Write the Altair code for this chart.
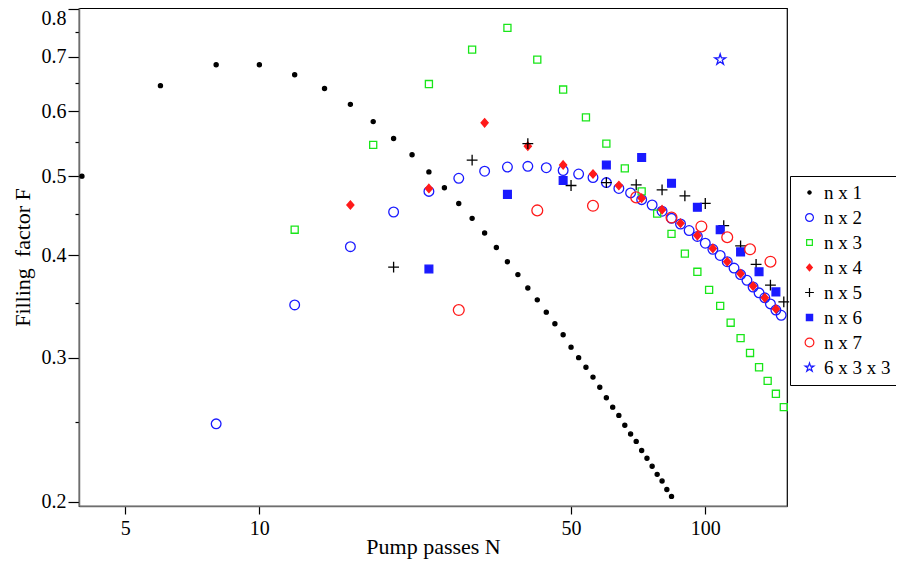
import altair as alt
import pandas as pd

series_names = ["n x 1", "n x 2", "n x 3", "n x 4", "n x 5", "n x 6", "n x 7", "6 x 3 x 3"]

n1_N = [4, 6, 8, 10, 12, 14, 16, 18, 20, 22, 24, 26, 28, 30, 32, 34, 36, 38, 40, 42, 44,
        46, 48, 50, 52, 54, 56, 58, 60, 62, 64, 66, 68, 70, 72, 74, 76, 78, 80, 82, 84]
n1_F = [0.500, 0.645, 0.684, 0.684, 0.665, 0.640, 0.612, 0.583, 0.556, 0.531, 0.506,
        0.484, 0.463, 0.444, 0.426, 0.409, 0.393, 0.379, 0.365, 0.353, 0.341, 0.330,
        0.320, 0.309, 0.300, 0.292, 0.284, 0.276, 0.268, 0.261, 0.255, 0.248, 0.242,
        0.237, 0.231, 0.226, 0.221, 0.216, 0.212, 0.207, 0.203]

n2_N = [8, 12, 16, 20, 24, 28, 32, 36, 40, 44, 48, 52, 56, 60, 64, 68, 72, 76, 80, 84,
        88, 92, 96, 100, 104, 108, 112, 116, 120, 124, 128, 132, 136, 140, 144, 148]
n2_F = [0.249, 0.348, 0.410, 0.452, 0.479, 0.497, 0.507, 0.513, 0.514, 0.512, 0.508,
        0.503, 0.498, 0.491, 0.483, 0.477, 0.468, 0.461, 0.453, 0.444, 0.437, 0.429,
        0.422, 0.414, 0.407, 0.400, 0.393, 0.386, 0.379, 0.373, 0.366, 0.360, 0.355,
        0.349, 0.343, 0.338]

n3_N = [12, 18, 24, 30, 36, 42, 48, 54, 60, 66, 72, 78, 84, 90, 96, 102, 108, 114, 120,
        126, 132, 138, 144, 150]
n3_F = [0.430, 0.546, 0.648, 0.714, 0.759, 0.694, 0.638, 0.590, 0.548, 0.511, 0.479,
        0.450, 0.425, 0.402, 0.382, 0.363, 0.347, 0.331, 0.317, 0.304, 0.292, 0.281,
        0.271, 0.261]

n4_N = [16, 24, 32, 40, 48, 56, 64, 72, 80, 88, 96, 104, 112, 120, 128, 136, 144]
n4_F = [0.461, 0.483, 0.581, 0.544, 0.516, 0.503, 0.487, 0.470, 0.455, 0.438, 0.423,
        0.408, 0.393, 0.380, 0.367, 0.355, 0.344]

n5_N = [20, 30, 40, 50, 60, 70, 80, 90, 100, 110, 120, 130, 140, 150]
n5_F = [0.387, 0.523, 0.548, 0.487, 0.491, 0.488, 0.481, 0.473, 0.463, 0.435, 0.411,
        0.390, 0.368, 0.351]

n6_N = [24, 36, 48, 60, 72, 84, 96, 108, 120, 132, 144]
n6_F = [0.385, 0.475, 0.494, 0.516, 0.527, 0.490, 0.458, 0.430, 0.404, 0.382, 0.361]

n7_N = [28, 42, 56, 70, 84, 98, 112, 126, 140]
n7_F = [0.343, 0.454, 0.460, 0.471, 0.445, 0.434, 0.421, 0.407, 0.393]

s633_N = [108]
s633_F = [0.694]

y_tick_values = [0.2, 0.25, 0.3, 0.35, 0.4, 0.45, 0.5, 0.55, 0.6, 0.65, 0.7, 0.75, 0.8]
x_tick_values = [5, 10, 50, 100]

all_series = [(series_names[0], n1_N, n1_F), (series_names[1], n2_N, n2_F),
              (series_names[2], n3_N, n3_F), (series_names[3], n4_N, n4_F),
              (series_names[4], n5_N, n5_F), (series_names[5], n6_N, n6_F),
              (series_names[6], n7_N, n7_F), (series_names[7], s633_N, s633_F)]
rows = []
for name, Ns, Fs in all_series:
    for n, f in zip(Ns, Fs):
        rows.append({"series": name, "N": n, "F": f})
df = pd.DataFrame(rows)

BLUE = "#1a1aff"
GREEN = "#19e619"
RED = "#ff1a1a"
stroke_colors = ["#000000", BLUE, GREEN, RED, "#000000", BLUE, RED, BLUE]
fill_colors = ["#000000", "transparent", "transparent", RED, "transparent", BLUE,
               "transparent", "transparent"]
shape_paths = [
    "M0,-0.36A0.36,0.36,0,1,1,0,0.36A0.36,0.36,0,1,1,0,-0.36Z",
    "M0,-0.85A0.85,0.85,0,1,1,0,0.85A0.85,0.85,0,1,1,0,-0.85Z",
    "M-0.62,-0.62H0.62V0.62H-0.62Z",
    "M0,-0.72L0.62,0L0,0.72L-0.62,0Z",
    "M-0.95,0H0.95M0,-0.95V0.95",
    "M-0.68,-0.68H0.68V0.68H-0.68Z",
    "M0,-0.95A0.95,0.95,0,1,1,0,0.95A0.95,0.95,0,1,1,0,-0.95Z",
    "M0,-1L0.223,-0.307L0.951,-0.309L0.361,0.117L0.588,0.809L0,0.38L-0.588,0.809L-0.361,0.117L-0.951,-0.309L-0.223,-0.307Z",
]

FONT = "Liberation Serif"
legend = alt.Legend(
    title=None, orient="none", legendX=711, legendY=168,
    strokeColor="#000000", fillColor="#ffffff", padding=7,
    labelFont=FONT, labelFontSize=19, labelColor="#000000",
    symbolSize=85, symbolStrokeWidth=1.2, rowPadding=5,
    symbolOffset=3, labelOffset=5,
)

major_test = "round(datum.value*100) % 10 == 0"

chart = alt.Chart(df).mark_point(size=130, opacity=1, strokeWidth=1.3).encode(
    x=alt.X("N:Q", scale=alt.Scale(type="log", domain=[3.94, 152.5], nice=False),
            axis=alt.Axis(values=x_tick_values, format="d", title="Pump passes N",
                          grid=False, tickSize=8, labelPadding=4, titlePadding=-2)),
    y=alt.Y("F:Q", scale=alt.Scale(type="log", domain=[0.1976, 0.8026], nice=False),
            axis=alt.Axis(values=y_tick_values, title="Filling\u00a0 factor F", grid=False,
                          labelExpr=major_test + " ? format(datum.value, '.1f') : ''",
                          tickSize={"condition": {"test": major_test, "value": 11}, "value": 4},
                          labelOffset={"condition": {"test": "datum.value > 0.79", "value": 9}, "value": 0},
                          labelPadding=2, titlePadding=7)),
    stroke=alt.Stroke("series:N", scale=alt.Scale(domain=series_names, range=stroke_colors), legend=legend),
    fill=alt.Fill("series:N", scale=alt.Scale(domain=series_names, range=fill_colors), legend=legend),
    shape=alt.Shape("series:N", scale=alt.Scale(domain=series_names, range=shape_paths), legend=legend),
).properties(
    width=708, height=498,
    autosize=alt.AutoSizeParams(type="none"),
    padding={"left": 71, "top": 0, "right": 109, "bottom": 55},
).configure_view(
    stroke="#000000", strokeWidth=1.2
).configure_axis(
    labelFont=FONT, labelFontSize=20, labelColor="#000000",
    titleFont=FONT, titleFontSize=22, titleColor="#000000", titleFontWeight="normal",
    domainColor="#6e6e6e", domainWidth=1.5, tickColor="#000000", tickWidth=1.2,
)

chart.save("out.html", embed_options={"renderer": "svg", "actions": False})
